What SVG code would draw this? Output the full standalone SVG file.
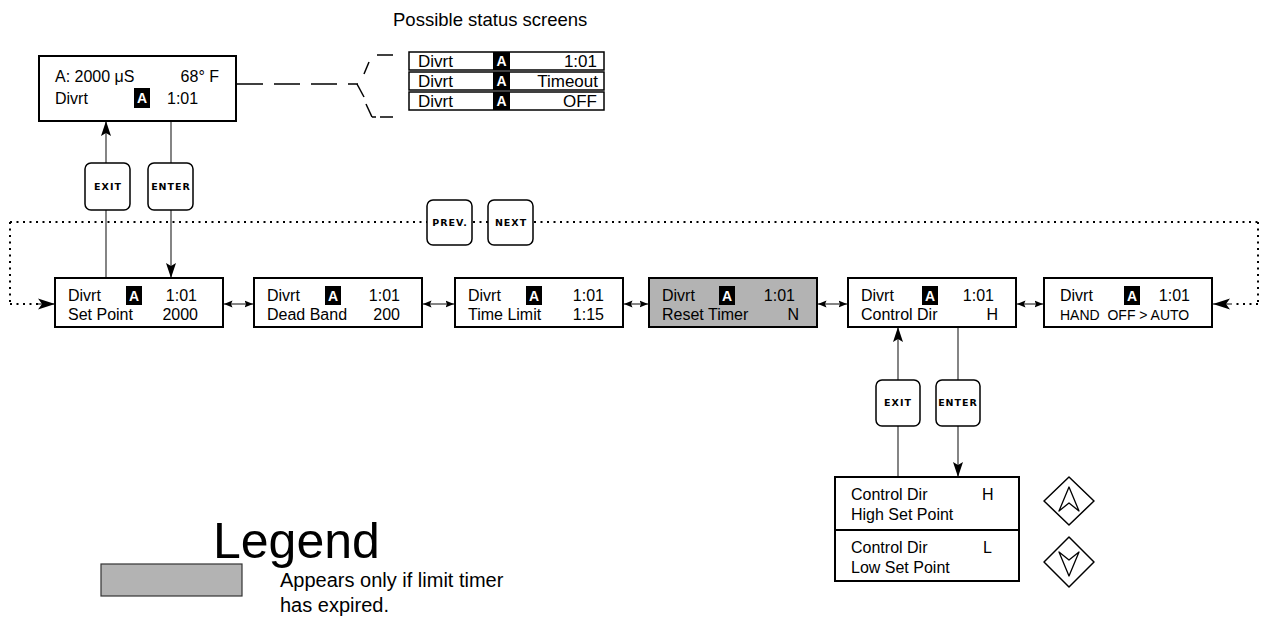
<svg xmlns="http://www.w3.org/2000/svg" width="1264" height="622" viewBox="0 0 1264 622">
<style>
text{font-family:"Liberation Sans",Arial,sans-serif;fill:#000}
.t{font-size:16px}
.st{font-size:17px}
.e{text-anchor:end}
.box{fill:#fff;stroke:#000;stroke-width:2}
.gray{fill:#b3b3b3}
.sbox{fill:#fff;stroke:#000;stroke-width:1.5}
.blk{fill:#000}
.aw{fill:#fff;font-weight:bold;font-size:14px;text-anchor:middle}
.btn{fill:#fff;stroke:#000;stroke-width:1.5}
.bt{font-family:"DejaVu Sans",sans-serif;font-weight:bold;font-size:9.5px;letter-spacing:1px;text-anchor:middle}
.ln{stroke:#333;stroke-width:1.2;fill:none}
.dot{stroke:#000;stroke-width:2;fill:none;stroke-dasharray:2,4.5}
.dash{stroke:#000;stroke-width:1.5;fill:none}
.dia{fill:#fff;stroke:#000;stroke-width:1.5;stroke-linejoin:round}
</style>
<defs>
<marker id="ah" markerWidth="16" markerHeight="10" refX="15" refY="5" orient="auto" markerUnits="userSpaceOnUse">
<path d="M0,0 L15,5 L0,10 L3,5 Z" fill="#000"/>
</marker>
<marker id="as" markerWidth="9" markerHeight="8" refX="8.5" refY="4" orient="auto-start-reverse" markerUnits="userSpaceOnUse">
<path d="M0,0.5 L8.5,4 L0,7.5 L1.5,4 Z" fill="#000"/>
</marker>
<marker id="ab" markerWidth="18" markerHeight="12" refX="17" refY="6" orient="auto" markerUnits="userSpaceOnUse">
<path d="M0,0.5 L17,6 L0,11.5 L4,6 Z" fill="#000"/>
</marker>
</defs>

<text x="393" y="26" style="font-size:18.5px">Possible status screens</text>

<g id="connectors">
<line class="dash" x1="237" y1="84" x2="358" y2="84" stroke-dasharray="26,11"/>
<line class="dash" x1="377" y1="55" x2="393" y2="55"/>
<line class="dash" x1="369" y1="62" x2="364" y2="74"/>
<line class="dash" x1="357" y1="84" x2="364" y2="97"/>
<line class="dash" x1="366" y1="104" x2="372" y2="117"/>
<line class="dash" x1="372" y1="117" x2="376" y2="117"/>
<line class="dash" x1="380" y1="117" x2="393" y2="117"/>
<line class="ln" x1="106" y1="278" x2="106" y2="210"/>
<line class="ln" x1="106" y1="163" x2="106" y2="121" marker-end="url(#ah)"/>
<line class="ln" x1="171" y1="121" x2="171" y2="163"/>
<line class="ln" x1="171" y1="210" x2="171" y2="278" marker-end="url(#ah)"/>
<line class="ln" x1="898" y1="477" x2="898" y2="426"/>
<line class="ln" x1="898" y1="380" x2="898" y2="327" marker-end="url(#ah)"/>
<line class="ln" x1="958" y1="327" x2="958" y2="380"/>
<line class="ln" x1="958" y1="426" x2="958" y2="477" marker-end="url(#ah)"/>
<line class="dot" x1="10" y1="222" x2="427" y2="222"/>
<line class="dot" x1="473" y1="222" x2="488" y2="222"/>
<line class="dot" x1="534" y1="222" x2="1258" y2="222"/>
<line class="dot" x1="10" y1="222" x2="10" y2="304"/>
<line class="dot" x1="10" y1="304" x2="38" y2="304"/>
<line class="ln" x1="38" y1="304" x2="55" y2="304" marker-end="url(#ab)"/>
<line class="dot" x1="1258" y1="222" x2="1258" y2="304"/>
<line class="dot" x1="1258" y1="304" x2="1232" y2="304"/>
<line class="ln" x1="1232" y1="304" x2="1213" y2="304" marker-end="url(#ab)"/>
<line class="ln" x1="224" y1="304" x2="253" y2="304" marker-start="url(#as)" marker-end="url(#as)"/>
<line class="ln" x1="423" y1="304" x2="454" y2="304" marker-start="url(#as)" marker-end="url(#as)"/>
<line class="ln" x1="624" y1="304" x2="648" y2="304" marker-start="url(#as)" marker-end="url(#as)"/>
<line class="ln" x1="818" y1="304" x2="847" y2="304" marker-start="url(#as)" marker-end="url(#as)"/>
<line class="ln" x1="1017" y1="304" x2="1043" y2="304" marker-start="url(#as)" marker-end="url(#as)"/>
</g>

<g id="top-display">
<rect class="box" x="39" y="56" width="197" height="65"/>
<text class="t" x="55" y="82">A: 2000 μS</text>
<text class="t e" x="219" y="82">68° F</text>
<text class="t" x="55" y="104">Divrt</text>
<rect class="blk" x="134" y="88" width="16" height="20"/>
<text class="aw" x="142" y="103">A</text>
<text class="t" x="167" y="104">1:01</text>
</g>

<g id="status-1">
<rect class="sbox" x="409" y="52" width="195" height="18"/>
<text class="st" x="418" y="67">Divrt</text>
<rect class="blk" x="493" y="52" width="17" height="18"/>
<text class="aw" x="501.5" y="66">A</text>
<text class="st e" x="597" y="67">1:01</text>
</g>
<g id="status-2">
<rect class="sbox" x="409" y="72" width="195" height="18"/>
<text class="st" x="418" y="87">Divrt</text>
<rect class="blk" x="493" y="72" width="17" height="18"/>
<text class="aw" x="501.5" y="86">A</text>
<text class="st e" x="598" y="87">Timeout</text>
</g>
<g id="status-3">
<rect class="sbox" x="409" y="92" width="195" height="18"/>
<text class="st" x="418" y="107">Divrt</text>
<rect class="blk" x="493" y="92" width="17" height="18"/>
<text class="aw" x="501.5" y="106">A</text>
<text class="st e" x="597" y="107">OFF</text>
</g>

<g id="btn-exit-top">
<rect class="btn" x="85" y="163" width="45" height="47" rx="6"/>
<text class="bt" x="108" y="190">EXIT</text>
</g>
<g id="btn-enter-top">
<rect class="btn" x="148" y="163" width="45" height="47" rx="6"/>
<text class="bt" x="171" y="190">ENTER</text>
</g>
<g id="btn-prev">
<rect class="btn" x="427" y="200" width="45" height="45" rx="6"/>
<text class="bt" x="450" y="226">PREV.</text>
</g>
<g id="btn-next">
<rect class="btn" x="488" y="200" width="45" height="45" rx="6"/>
<text class="bt" x="511" y="226">NEXT</text>
</g>

<g id="set-point">
<rect class="box" x="55" y="278" width="168" height="49"/>
<text class="t" x="68" y="301">Divrt</text>
<rect class="blk" x="126" y="286" width="16" height="19"/>
<text class="aw" x="134" y="301">A</text>
<text class="t e" x="197" y="301">1:01</text>
<text class="t" x="68" y="320">Set Point</text>
<text class="t e" x="198" y="320">2000</text>
</g>
<g id="dead-band">
<rect class="box" x="254" y="278" width="168" height="49"/>
<text class="t" x="267" y="301">Divrt</text>
<rect class="blk" x="325" y="286" width="16" height="19"/>
<text class="aw" x="333" y="301">A</text>
<text class="t e" x="400" y="301">1:01</text>
<text class="t" x="267" y="320">Dead Band</text>
<text class="t e" x="400" y="320">200</text>
</g>
<g id="time-limit">
<rect class="box" x="455" y="278" width="168" height="49"/>
<text class="t" x="468" y="301">Divrt</text>
<rect class="blk" x="526" y="286" width="16" height="19"/>
<text class="aw" x="534" y="301">A</text>
<text class="t e" x="604" y="301">1:01</text>
<text class="t" x="468" y="320">Time Limit</text>
<text class="t e" x="604" y="320">1:15</text>
</g>
<g id="reset-timer">
<rect class="box gray" x="649" y="278" width="168" height="49"/>
<text class="t" x="662" y="301">Divrt</text>
<rect class="blk" x="719" y="286" width="16" height="19"/>
<text class="aw" x="727" y="301">A</text>
<text class="t e" x="795" y="301">1:01</text>
<text class="t" x="662" y="320">Reset Timer</text>
<text class="t e" x="799" y="320">N</text>
</g>
<g id="control-dir">
<rect class="box" x="848" y="278" width="168" height="49"/>
<text class="t" x="861" y="301">Divrt</text>
<rect class="blk" x="922" y="286" width="16" height="19"/>
<text class="aw" x="930" y="301">A</text>
<text class="t e" x="994" y="301">1:01</text>
<text class="t" x="861" y="320">Control Dir</text>
<text class="t e" x="998" y="320">H</text>
</g>
<g id="hand-auto">
<rect class="box" x="1044" y="278" width="168" height="49"/>
<text class="t" x="1060" y="301">Divrt</text>
<rect class="blk" x="1124" y="286" width="16" height="19"/>
<text class="aw" x="1132" y="301">A</text>
<text class="t e" x="1190" y="301">1:01</text>
<text x="1060" y="320" style="font-size:14px" xml:space="preserve">HAND  OFF &gt; AUTO</text>
</g>

<g id="btn-exit-low">
<rect class="btn" x="876" y="380" width="44" height="46" rx="6"/>
<text class="bt" x="898" y="406">EXIT</text>
</g>
<g id="btn-enter-low">
<rect class="btn" x="936" y="380" width="44" height="46" rx="6"/>
<text class="bt" x="958" y="406">ENTER</text>
</g>

<g id="high-set-point">
<rect class="box" x="835" y="477" width="184" height="53"/>
<text class="t" x="851" y="500">Control Dir</text>
<text class="t" x="982" y="500">H</text>
<text class="t" x="851" y="520">High Set Point</text>
</g>
<g id="low-set-point">
<rect class="box" x="835" y="530" width="184" height="51"/>
<text class="t" x="851" y="553">Control Dir</text>
<text class="t" x="983" y="553">L</text>
<text class="t" x="851" y="573">Low Set Point</text>
</g>

<g id="up-key">
<path class="dia" d="M1069,477 L1094,501 L1069,525 L1044,501 Z"/>
<path class="dia" d="M1069,487 L1079,511 L1069,503 L1059,511 Z" style="stroke-width:1.3"/>
</g>
<g id="down-key">
<path class="dia" d="M1069,537 L1094,562 L1069,587 L1044,562 Z"/>
<path class="dia" d="M1069,576 L1079,552 L1069,560 L1059,552 Z" style="stroke-width:1.3"/>
</g>

<g id="legend">
<text x="213" y="558" style="font-size:50px">Legend</text>
<rect x="101" y="564" width="141" height="32" fill="#b3b3b3" stroke="#333" stroke-width="1.2"/>
<text x="280" y="587" style="font-size:20px">Appears only if limit timer</text>
<text x="280" y="612" style="font-size:20px">has expired.</text>
</g>
</svg>
